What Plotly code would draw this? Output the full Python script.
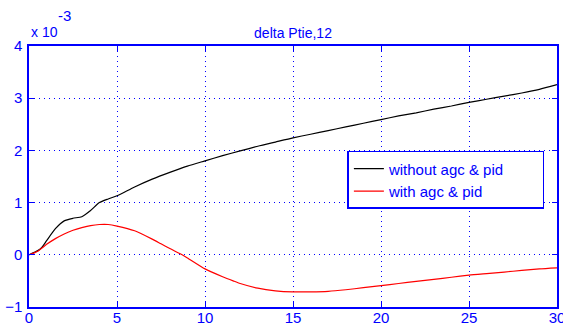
import plotly.graph_objects as go

# time (s)
t_black = [0, 0.5, 0.7, 1, 1.5, 2, 2.5, 3, 3.5, 4, 4.5, 5, 6, 7, 8, 9, 10, 11, 12, 13, 14, 15,
           16, 17, 18, 19, 20, 21, 22, 23, 24, 25, 26, 27, 28, 29, 30]
# delta Ptie,12 without agc & pid (x 10^-3)
y_black = [0, 0.08, 0.13, 0.27, 0.50, 0.65, 0.70, 0.73, 0.85, 1.00, 1.07, 1.13, 1.30, 1.45, 1.58,
           1.70, 1.80, 1.90, 1.99, 2.08, 2.16, 2.24, 2.31, 2.38, 2.45, 2.52, 2.59, 2.66, 2.72,
           2.79, 2.85, 2.92, 2.98, 3.04, 3.10, 3.17, 3.26]

t_red = [0, 0.5, 1, 1.5, 2, 2.5, 3, 3.5, 4, 4.5, 5, 6, 7, 7.5, 8, 8.7, 9, 10, 11, 11.6, 12, 13,
         14, 15, 16, 17, 18, 19, 20, 21, 22, 23, 24, 25, 26, 27, 28, 29, 30]
# delta Ptie,12 with agc & pid (x 10^-3)
y_red = [0, 0.07, 0.20, 0.31, 0.40, 0.47, 0.52, 0.56, 0.58, 0.58, 0.55, 0.46, 0.30, 0.21, 0.12,
         0.0, -0.06, -0.27, -0.42, -0.50, -0.55, -0.64, -0.69, -0.71, -0.71, -0.70, -0.67,
         -0.63, -0.59, -0.55, -0.51, -0.47, -0.43, -0.39, -0.36, -0.33, -0.30, -0.27, -0.25]

x_ticks = [0, 5, 10, 15, 20, 25, 30]
y_ticks = [-1, 0, 1, 2, 3, 4]

BLUE = "#0000ff"
FONT = "Liberation Sans, Arial, sans-serif"
PAD = "\u00a0" * 8

fig = go.Figure()
fig.add_trace(go.Scatter(x=t_black, y=y_black, mode="lines", name="without agc & pid" + PAD,
                         line=dict(color="black", width=1.2, shape="spline", smoothing=0.6)))
fig.add_trace(go.Scatter(x=t_red, y=y_red, mode="lines", name="with agc & pid",
                         line=dict(color="red", width=1.2, shape="spline", smoothing=0.6)))

axis_common = dict(
    showline=True, linecolor=BLUE, linewidth=1.5, mirror="ticks",
    ticks="inside", ticklen=5, tickcolor=BLUE, automargin=False,
    showgrid=True, gridcolor=BLUE, griddash="1px,4px", gridwidth=1,
    zeroline=False, tickfont=dict(color=BLUE, size=15, family=FONT),
    ticklabeloverflow="allow",
)

fig.update_layout(
    width=563, height=326,
    margin=dict(l=29, r=6, t=46, b=19),
    paper_bgcolor="white", plot_bgcolor="white",
    title=dict(text="delta Ptie,12", x=0.5, xanchor="center", xref="paper",
               yref="paper", y=1, yanchor="bottom", pad=dict(b=8),
               font=dict(color=BLUE, size=14, family=FONT), automargin=False),
    xaxis=dict(range=[0, 30], tickvals=x_ticks, ticklabelstandoff=-4, **axis_common),
    yaxis=dict(range=[-1, 4], tickvals=y_ticks, ticklabelstandoff=2, **axis_common),
    legend=dict(x=0.603, y=0.598, xanchor="left", yanchor="top",
                bgcolor="white", bordercolor=BLUE, borderwidth=1.5,
                font=dict(color=BLUE, size=15, family=FONT),
                tracegroupgap=0, itemwidth=30),
    showlegend=True,
)
fig.add_annotation(text="x 10", xref="paper", yref="paper", x=0.0, y=1.0,
                   xanchor="left", yanchor="bottom", showarrow=False, yshift=4,
                   font=dict(color=BLUE, size=14, family=FONT))
fig.add_annotation(text="-3", xref="paper", yref="paper", x=0.052, y=1.0,
                   xanchor="left", yanchor="bottom", showarrow=False, yshift=20,
                   font=dict(color=BLUE, size=15, family=FONT))

fig.write_html("out.html", post_script="document.body.style.margin='0';",
               config={"displayModeBar": False})
